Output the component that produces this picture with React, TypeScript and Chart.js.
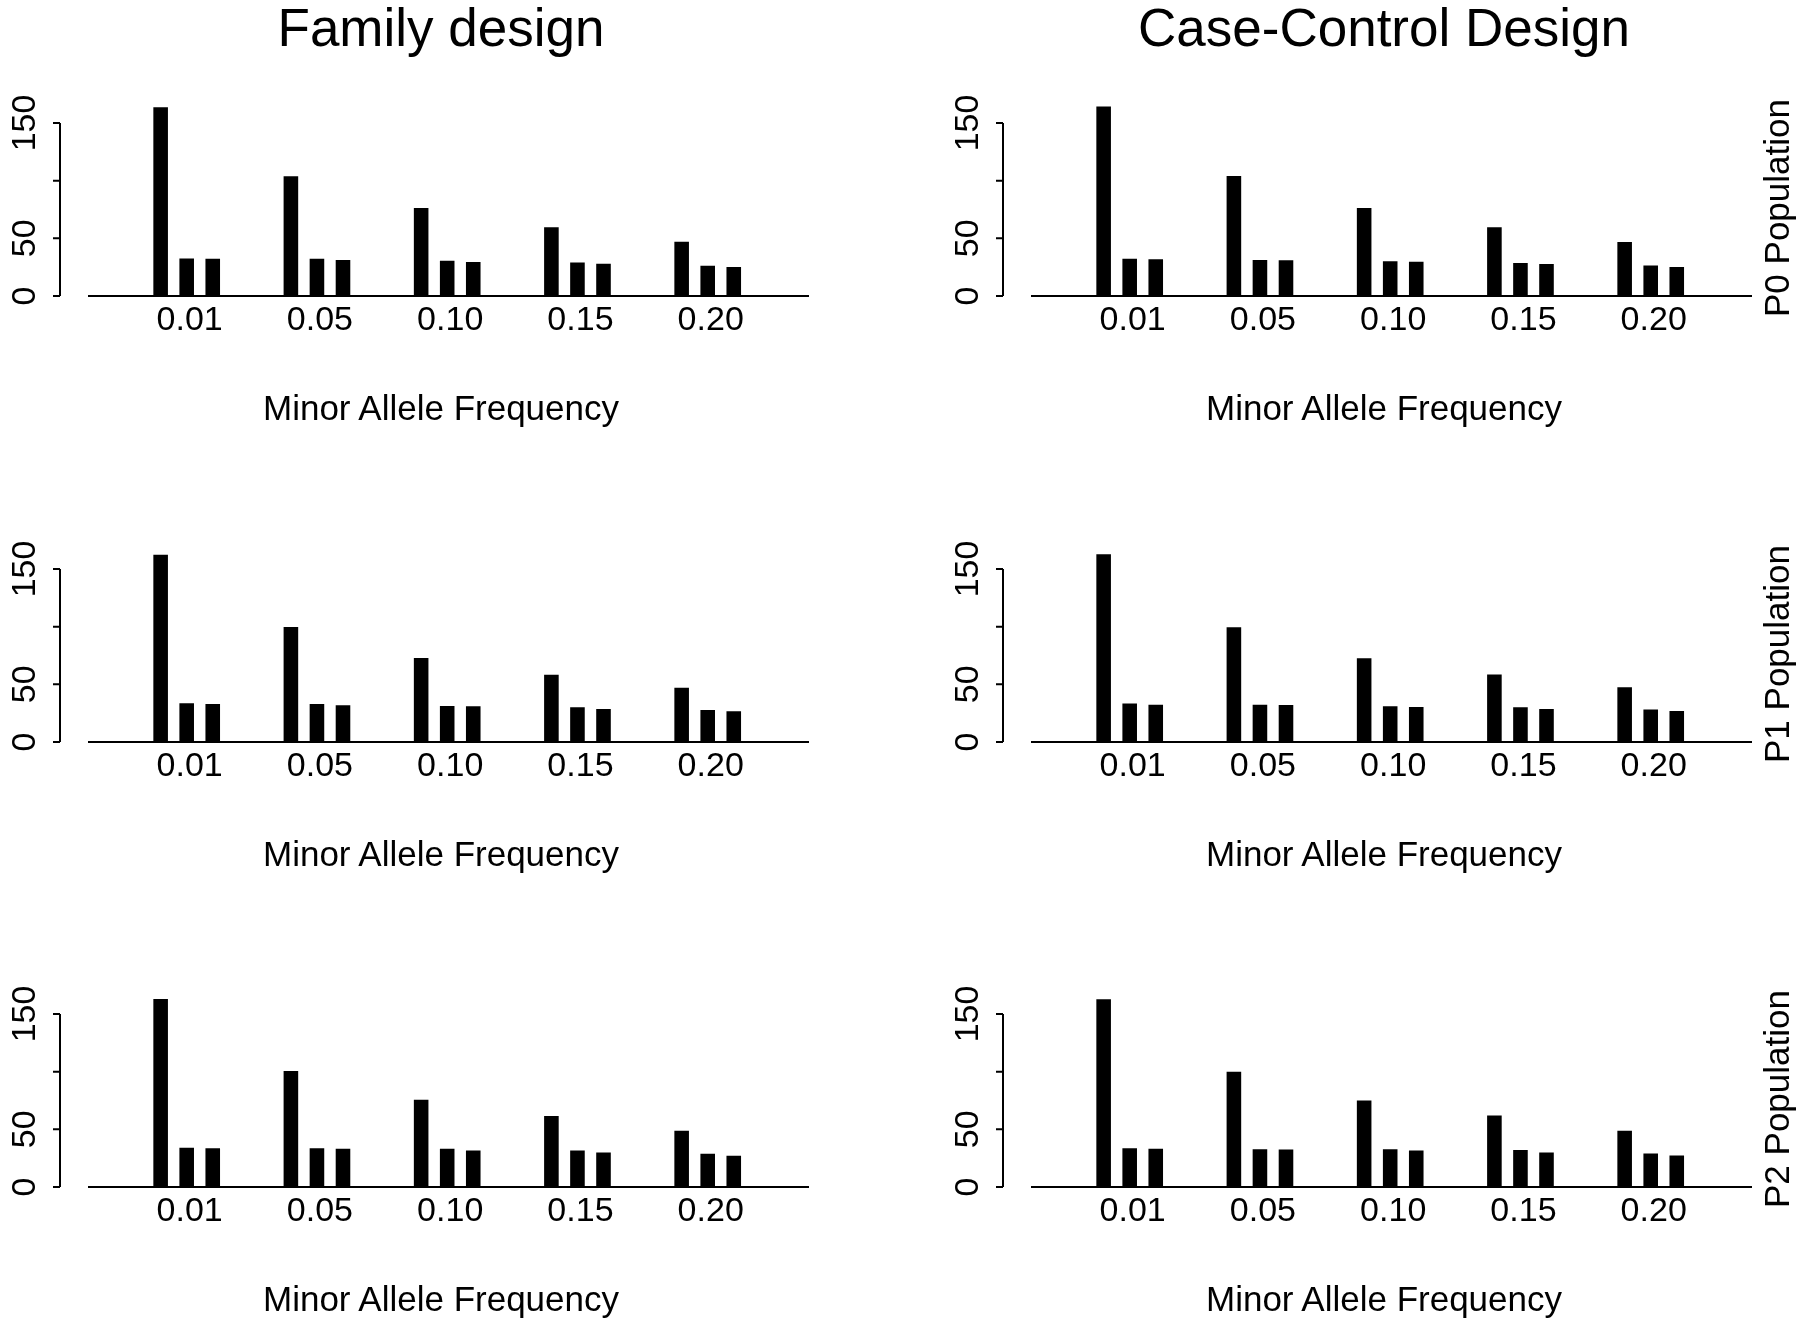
import React, { useEffect, useRef } from "react";
import { Chart, registerables } from "chart.js";

Chart.register(...registerables);

// ---------- data ----------
const mafLabels = ["0.01", "0.05", "0.10", "0.15", "0.20"];
const groupPositions = [1, 2, 3, 4, 5];
const yTickValues = [0, 50, 100, 150];
const yTickLabels = ["0", "50", "", "150"];
const designTitles = ["Family design", "Case-Control Design"];
const populationLabels = ["P0 Population", "P1 Population", "P2 Population"];
const xAxisTitle = "Minor Allele Frequency";

// Family design
const familyP0_s1 = [163.6, 103.9, 76.2, 59.7, 47.0];
const familyP0_s2 = [32.6, 32.3, 30.6, 29.1, 26.3];
const familyP0_s3 = [32.3, 31.2, 29.4, 28.0, 25.1];
const familyP1_s1 = [162.4, 99.7, 72.8, 58.4, 47.1];
const familyP1_s2 = [33.5, 32.9, 31.2, 30.1, 27.7];
const familyP1_s3 = [32.9, 31.8, 30.9, 28.6, 26.6];
const familyP2_s1 = [163.1, 100.6, 75.6, 61.6, 48.8];
const familyP2_s2 = [34.0, 33.7, 33.1, 31.7, 28.8];
const familyP2_s3 = [33.7, 33.1, 31.7, 29.9, 27.0];

// Case-control design
const ccP0_s1 = [164.2, 104.0, 76.2, 59.7, 46.9];
const ccP0_s2 = [32.4, 31.3, 30.1, 28.7, 26.4];
const ccP0_s3 = [31.9, 31.0, 29.8, 27.8, 25.2];
const ccP1_s1 = [162.8, 99.6, 72.7, 58.5, 47.5];
const ccP1_s2 = [33.3, 32.4, 31.0, 30.1, 28.1];
const ccP1_s3 = [32.4, 32.1, 30.4, 28.7, 26.9];
const ccP2_s1 = [162.8, 100.0, 75.0, 61.9, 48.8];
const ccP2_s2 = [33.7, 32.8, 32.8, 32.0, 29.1];
const ccP2_s3 = [33.1, 32.6, 31.7, 29.9, 27.3];

const panelSeries = [
  [
    [familyP0_s1, familyP0_s2, familyP0_s3],
    [ccP0_s1, ccP0_s2, ccP0_s3],
  ],
  [
    [familyP1_s1, familyP1_s2, familyP1_s3],
    [ccP1_s1, ccP1_s2, ccP1_s3],
  ],
  [
    [familyP2_s1, familyP2_s2, familyP2_s3],
    [ccP2_s1, ccP2_s2, ccP2_s3],
  ],
];

// ---------- layout ----------
const FONT = "'Liberation Sans', Arial, Helvetica, sans-serif";
const COL_LEFT = [0, 943];
const COL_WIDTH = [900, 857];
const COL_CENTER = [441, 1384];
const ROW_BASE = [296, 742, 1187];
const CHART_LEFT = 89;
const CHART_RIGHT = 808;
const CANVAS_ABOVE_BASE = 240;
const CANVAS_H = 446;
const X_AXIS_H = 60;
const Y_MAX = 175;
const PX_PER_UNIT = 173 / 150;

const rAxisPlugin = {
  id: "rAxis",
  afterDraw(chart: any, _args: any, opts: any) {
    const ctx = chart.ctx;
    const ys = chart.scales.y;
    const x0 = chart.chartArea.left - opts.offset;
    ctx.save();
    ctx.strokeStyle = "#000";
    ctx.lineWidth = opts.lineWidth;
    ctx.beginPath();
    ctx.moveTo(x0, ys.getPixelForValue(yTickValues[0]));
    ctx.lineTo(x0, ys.getPixelForValue(yTickValues[yTickValues.length - 1]));
    yTickValues.forEach((v) => {
      const py = ys.getPixelForValue(v);
      ctx.moveTo(x0 - opts.tickLen, py);
      ctx.lineTo(x0, py);
    });
    ctx.stroke();
    ctx.fillStyle = "#000";
    ctx.font = `${opts.fontSize}px ${FONT}`;
    ctx.textAlign = "center";
    ctx.textBaseline = "alphabetic";
    yTickValues.forEach((v, i) => {
      const lab = yTickLabels[i];
      if (!lab) return;
      const py = ys.getPixelForValue(v);
      ctx.save();
      ctx.translate(x0 - opts.labelGap, py);
      ctx.rotate(-Math.PI / 2);
      ctx.fillText(lab, 0, 0);
      ctx.restore();
    });
    ctx.restore();
  },
};

function Panel({ col, row }: { col: number; row: number }) {
  const ref = useRef<HTMLCanvasElement>(null);
  const w = COL_WIDTH[col];
  useEffect(() => {
    const series = panelSeries[row][col];
    const chart = new Chart(ref.current as HTMLCanvasElement, {
      type: "bar",
      data: {
        datasets: series.map((s: number[]) => ({
          data: groupPositions.map((x, i) => ({ x, y: s[i] })),
          backgroundColor: "#000",
          borderWidth: 0,
          categoryPercentage: 0.6,
          barPercentage: 0.56,
        })),
      } as any,
      options: {
        responsive: false,
        animation: false,
        events: [],
        layout: {
          padding: {
            left: CHART_LEFT,
            right: w - CHART_RIGHT,
            top: CANVAS_ABOVE_BASE - Y_MAX * PX_PER_UNIT,
            bottom: CANVAS_H - CANVAS_ABOVE_BASE - X_AXIS_H,
          },
        },
        plugins: {
          legend: { display: false },
          tooltip: { enabled: false },
          rAxis: { offset: 29, tickLen: 7, labelGap: 25, lineWidth: 2, fontSize: 34 },
        } as any,
        scales: {
          x: {
            type: "linear",
            min: 0.25,
            max: 5.77,
            offset: false,
            grid: { display: false, drawTicks: false },
            border: { display: true, color: "#000", width: 2 },
            ticks: {
              color: "#000",
              font: { family: FONT, size: 34 },
              padding: 4,
              labelOffset: 3,
              maxRotation: 0,
              autoSkip: false,
              callback: (_v: any, i: number) => mafLabels[i],
            },
            afterBuildTicks: (s: any) => {
              s.ticks = groupPositions.map((v) => ({ value: v }));
            },
            afterFit: (s: any) => {
              s.height = X_AXIS_H;
            },
          },
          y: { display: false, min: 0, max: Y_MAX },
        },
      } as any,
      plugins: [rAxisPlugin],
    });
    return () => chart.destroy();
  }, [col, row]);
  return (
    <canvas
      ref={ref}
      width={w}
      height={CANVAS_H}
      style={{
        position: "absolute",
        left: COL_LEFT[col],
        top: ROW_BASE[row] - CANVAS_ABOVE_BASE,
        width: w,
        height: CANVAS_H,
      }}
    />
  );
}

export default function App() {
  const rows = [0, 1, 2];
  const cols = [0, 1];
  return (
    <div
      style={{
        position: "absolute",
        left: 0,
        top: 0,
        width: 1800,
        height: 1323,
        background: "#fff",
        overflow: "hidden",
        fontFamily: FONT,
        color: "#000",
      }}
    >
      {cols.map((c) => (
        <div
          key={"t" + c}
          style={{
            position: "absolute",
            left: COL_CENTER[c] - 400,
            width: 800,
            top: 1,
            textAlign: "center",
            fontSize: 53,
            lineHeight: "53px",
            whiteSpace: "nowrap",
          }}
        >
          {designTitles[c]}
        </div>
      ))}
      {rows.map((r) =>
        cols.map((c) => <Panel key={`p${r}${c}`} col={c} row={r} />)
      )}
      {rows.map((r) =>
        cols.map((c) => (
          <div
            key={`x${r}${c}`}
            style={{
              position: "absolute",
              left: COL_CENTER[c] - 300,
              width: 600,
              top: ROW_BASE[r] + 94,
              textAlign: "center",
              fontSize: 35,
              lineHeight: "35px",
              whiteSpace: "nowrap",
            }}
          >
            {xAxisTitle}
          </div>
        ))
      )}
      {rows.map((r) => (
        <div
          key={`r${r}`}
          style={{
            position: "absolute",
            left: 1776,
            top: ROW_BASE[r] - 88,
            transform: "translate(-50%, -50%) rotate(-90deg)",
            fontSize: 35,
            lineHeight: "35px",
            whiteSpace: "nowrap",
          }}
        >
          {populationLabels[r]}
        </div>
      ))}
    </div>
  );
}
